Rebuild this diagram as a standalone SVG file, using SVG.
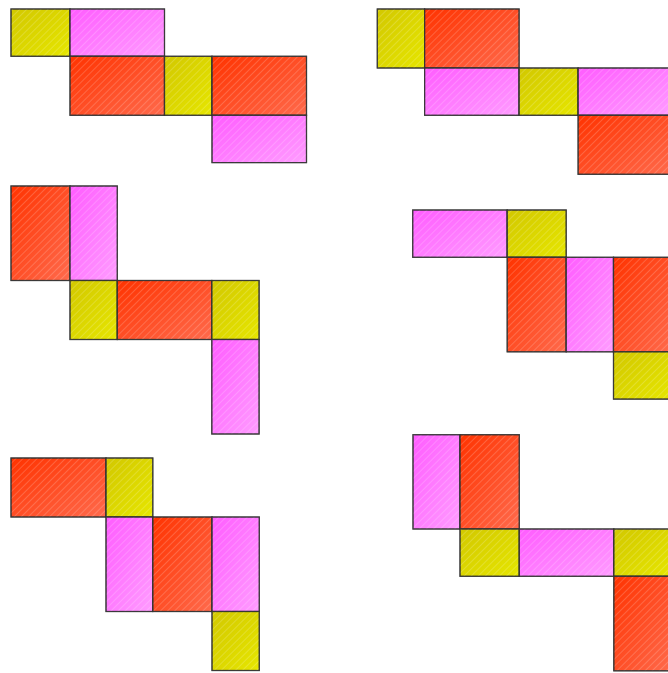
<svg xmlns="http://www.w3.org/2000/svg" width="668" height="673" viewBox="0 0 668 673">
<defs>
<linearGradient id="gy" x1="0" y1="0" x2="1" y2="1"><stop offset="0" stop-color="#d2c800"/><stop offset="1" stop-color="#e6e600"/></linearGradient>
<linearGradient id="gm" x1="0" y1="0" x2="1" y2="1"><stop offset="0" stop-color="#ff5cff"/><stop offset="1" stop-color="#ff9cff"/></linearGradient>
<linearGradient id="gr" x1="0" y1="0" x2="1" y2="1"><stop offset="0" stop-color="#ff3300"/><stop offset="1" stop-color="#ff6a4c"/></linearGradient>
<pattern id="hatch" patternUnits="userSpaceOnUse" width="5" height="5" patternTransform="rotate(45)">
<line x1="0.5" y1="0" x2="0.5" y2="5" stroke="#ffffff" stroke-opacity="0.18" stroke-width="1"/>
</pattern>
</defs>
<style>
.f rect{stroke:#333333;stroke-opacity:0.8;stroke-width:1.2}
.y{fill:url(#gy)}
.m{fill:url(#gm)}
.r{fill:url(#gr)}
.h{fill:url(#hatch)}
</style>
<!-- Net 1 -->
<g id="net1" class="f">
<g id="n1f1"><rect class="y" x="11" y="9" width="59" height="47.3"/><rect class="h" x="11" y="9" width="59" height="47.3"/></g>
<g id="n1f2"><rect class="m" x="70" y="9" width="94.5" height="47.3"/><rect class="h" x="70" y="9" width="94.5" height="47.3"/></g>
<g id="n1f3"><rect class="r" x="70" y="56.3" width="94.5" height="59"/><rect class="h" x="70" y="56.3" width="94.5" height="59"/></g>
<g id="n1f4"><rect class="y" x="164.5" y="56.3" width="47.5" height="59"/><rect class="h" x="164.5" y="56.3" width="47.5" height="59"/></g>
<g id="n1f5"><rect class="r" x="212" y="56.3" width="94.5" height="59"/><rect class="h" x="212" y="56.3" width="94.5" height="59"/></g>
<g id="n1f6"><rect class="m" x="212" y="115.3" width="94.5" height="47.3"/><rect class="h" x="212" y="115.3" width="94.5" height="47.3"/></g>
</g>
<!-- Net 2 -->
<g id="net2" class="f">
<g id="n2f1"><rect class="y" x="377.3" y="9" width="47.3" height="59"/><rect class="h" x="377.3" y="9" width="47.3" height="59"/></g>
<g id="n2f2"><rect class="r" x="424.6" y="9" width="94.5" height="59"/><rect class="h" x="424.6" y="9" width="94.5" height="59"/></g>
<g id="n2f3"><rect class="m" x="424.6" y="68" width="94.5" height="47.3"/><rect class="h" x="424.6" y="68" width="94.5" height="47.3"/></g>
<g id="n2f4"><rect class="y" x="519.1" y="68" width="59" height="47.3"/><rect class="h" x="519.1" y="68" width="59" height="47.3"/></g>
<g id="n2f5"><rect class="m" x="578.1" y="68" width="94.5" height="47.3"/><rect class="h" x="578.1" y="68" width="94.5" height="47.3"/></g>
<g id="n2f6"><rect class="r" x="578.1" y="115.3" width="94.5" height="59"/><rect class="h" x="578.1" y="115.3" width="94.5" height="59"/></g>
</g>
<!-- Net 3 -->
<g id="net3" class="f">
<g id="n3f1"><rect class="r" x="11" y="186" width="59" height="94.5"/><rect class="h" x="11" y="186" width="59" height="94.5"/></g>
<g id="n3f2"><rect class="m" x="70" y="186" width="47.3" height="94.5"/><rect class="h" x="70" y="186" width="47.3" height="94.5"/></g>
<g id="n3f3"><rect class="y" x="70" y="280.5" width="47.3" height="59"/><rect class="h" x="70" y="280.5" width="47.3" height="59"/></g>
<g id="n3f4"><rect class="r" x="117.3" y="280.5" width="94.5" height="59"/><rect class="h" x="117.3" y="280.5" width="94.5" height="59"/></g>
<g id="n3f5"><rect class="y" x="211.8" y="280.5" width="47.3" height="59"/><rect class="h" x="211.8" y="280.5" width="47.3" height="59"/></g>
<g id="n3f6"><rect class="m" x="211.8" y="339.5" width="47.3" height="94.5"/><rect class="h" x="211.8" y="339.5" width="47.3" height="94.5"/></g>
</g>
<!-- Net 4 -->
<g id="net4" class="f">
<g id="n4f1"><rect class="m" x="412.7" y="210" width="94.5" height="47.3"/><rect class="h" x="412.7" y="210" width="94.5" height="47.3"/></g>
<g id="n4f2"><rect class="y" x="507.2" y="210" width="59" height="47.3"/><rect class="h" x="507.2" y="210" width="59" height="47.3"/></g>
<g id="n4f3"><rect class="r" x="507.2" y="257.3" width="59" height="94.5"/><rect class="h" x="507.2" y="257.3" width="59" height="94.5"/></g>
<g id="n4f4"><rect class="m" x="566.2" y="257.3" width="47.3" height="94.5"/><rect class="h" x="566.2" y="257.3" width="47.3" height="94.5"/></g>
<g id="n4f5"><rect class="r" x="613.5" y="257.3" width="59" height="94.5"/><rect class="h" x="613.5" y="257.3" width="59" height="94.5"/></g>
<g id="n4f6"><rect class="y" x="613.5" y="351.8" width="59" height="47.3"/><rect class="h" x="613.5" y="351.8" width="59" height="47.3"/></g>
</g>
<!-- Net 5 -->
<g id="net5" class="f">
<g id="n5f1"><rect class="r" x="11" y="458" width="95" height="59"/><rect class="h" x="11" y="458" width="95" height="59"/></g>
<g id="n5f2"><rect class="y" x="106" y="458" width="46.8" height="59"/><rect class="h" x="106" y="458" width="46.8" height="59"/></g>
<g id="n5f3"><rect class="m" x="106" y="517" width="46.8" height="94.5"/><rect class="h" x="106" y="517" width="46.8" height="94.5"/></g>
<g id="n5f4"><rect class="r" x="152.8" y="517" width="59.2" height="94.5"/><rect class="h" x="152.8" y="517" width="59.2" height="94.5"/></g>
<g id="n5f5"><rect class="m" x="212" y="517" width="47.3" height="94.5"/><rect class="h" x="212" y="517" width="47.3" height="94.5"/></g>
<g id="n5f6"><rect class="y" x="212" y="611.5" width="47.3" height="59"/><rect class="h" x="212" y="611.5" width="47.3" height="59"/></g>
</g>
<!-- Net 6 -->
<g id="net6" class="f">
<g id="n6f1"><rect class="m" x="413" y="434.7" width="47" height="94.3"/><rect class="h" x="413" y="434.7" width="47" height="94.3"/></g>
<g id="n6f2"><rect class="r" x="460" y="434.7" width="59.3" height="94.3"/><rect class="h" x="460" y="434.7" width="59.3" height="94.3"/></g>
<g id="n6f3"><rect class="y" x="460" y="529" width="59.3" height="47.3"/><rect class="h" x="460" y="529" width="59.3" height="47.3"/></g>
<g id="n6f4"><rect class="m" x="519.3" y="529" width="94.5" height="47.3"/><rect class="h" x="519.3" y="529" width="94.5" height="47.3"/></g>
<g id="n6f5"><rect class="y" x="613.8" y="529" width="59" height="47.3"/><rect class="h" x="613.8" y="529" width="59" height="47.3"/></g>
<g id="n6f6"><rect class="r" x="613.8" y="576.3" width="59" height="94.5"/><rect class="h" x="613.8" y="576.3" width="59" height="94.5"/></g>
</g>
<g id="connectors"/>
</svg>
